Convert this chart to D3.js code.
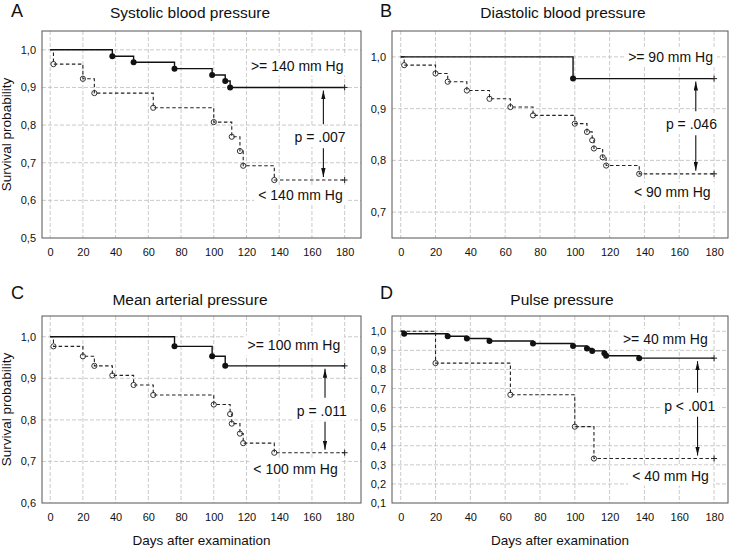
<!DOCTYPE html>
<html>
<head>
<meta charset="utf-8">
<script src="https://cdn.jsdelivr.net/npm/d3@7"></script>
<style>
  html, body { margin: 0; padding: 0; background: #fff; }
  svg { display: block; font-family: "Liberation Sans", Arial, sans-serif; }
</style>
</head>
<body>
<div id="chart"></div>
<script>
// Days on the x axis (same for all panels)
const xTicks = [0, 20, 40, 60, 80, 100, 120, 140, 160, 180];
const followUpEnd = 180;

// A: systolic blood pressure
const sbpTicks = [0.5, 0.6, 0.7, 0.8, 0.9, 1.0];
const sbpHighDays = [38, 51, 76, 99, 107, 110];
const sbpHighSurv = [0.983, 0.967, 0.950, 0.933, 0.917, 0.900];
const sbpLowDays = [2, 20, 27, 63, 100, 111, 116, 118, 137];
const sbpLowSurv = [0.962, 0.923, 0.885, 0.846, 0.808, 0.769, 0.731, 0.692, 0.654];

// B: diastolic blood pressure
const dbpTicks = [0.7, 0.8, 0.9, 1.0];
const dbpHighDays = [99];
const dbpHighSurv = [0.958];
const dbpLowDays = [2, 20, 27, 38, 51, 63, 76, 100, 107, 110, 111, 116, 118, 137];
const dbpLowSurv = [0.984, 0.968, 0.952, 0.935, 0.919, 0.903, 0.887, 0.871, 0.855, 0.839, 0.823, 0.806, 0.790, 0.774];

// C: mean arterial pressure
const mapTicks = [0.6, 0.7, 0.8, 0.9, 1.0];
const mapHighDays = [76, 99, 107];
const mapHighSurv = [0.977, 0.953, 0.930];
const mapLowDays = [2, 20, 27, 38, 51, 63, 100, 110, 111, 116, 118, 137];
const mapLowSurv = [0.977, 0.953, 0.930, 0.907, 0.884, 0.860, 0.837, 0.814, 0.791, 0.767, 0.744, 0.721];

// D: pulse pressure
const ppTicks = [0.1, 0.2, 0.3, 0.4, 0.5, 0.6, 0.7, 0.8, 0.9, 1.0];
const ppHighDays = [2, 27, 38, 51, 76, 99, 107, 110, 117, 118, 137];
const ppHighSurv = [0.987, 0.974, 0.962, 0.949, 0.936, 0.923, 0.910, 0.897, 0.885, 0.872, 0.859];
const ppLowDays = [20, 63, 100, 111];
const ppLowSurv = [0.833, 0.667, 0.500, 0.333];

const width = 734;
const height = 548;

// Panel setup
const panels = [
  {
    letter: 'A', title: 'Systolic blood pressure', titleX: 190, titleY: 18,
    letterX: 11, letterY: 17,
    frame: { left: 42, top: 31, right: 361, bottom: 238 },
    xDomain: [-5, 190], yDomain: [0.5, 1.05], yTicks: sbpTicks,
    high: { days: sbpHighDays, surv: sbpHighSurv },
    low: { days: sbpLowDays, surv: sbpLowSurv },
    hiText: '>= 140 mm Hg', hiPos: [151, 0.958],
    loText: '< 140 mm Hg', loPos: [153, 0.614],
    pText: 'p = .007', pPos: [165, 0.768], arrowX: 167,
    yLabel: true, xLabel: false
  },
  {
    letter: 'B', title: 'Diastolic blood pressure', titleX: 563, titleY: 18,
    letterX: 380, letterY: 17,
    frame: { left: 392, top: 31, right: 728, bottom: 238 },
    xDomain: [-5, 188], yDomain: [0.65, 1.05], yTicks: dbpTicks,
    high: { days: dbpHighDays, surv: dbpHighSurv },
    low: { days: dbpLowDays, surv: dbpLowSurv },
    hiText: '>= 90 mm Hg', hiPos: [155, 1.0],
    loText: '< 90 mm Hg', loPos: [156, 0.738],
    pText: 'p = .046', pPos: [167, 0.870], arrowX: 169.5,
    yLabel: false, xLabel: false
  },
  {
    letter: 'C', title: 'Mean arterial pressure', titleX: 190, titleY: 305,
    letterX: 11, letterY: 299,
    frame: { left: 42, top: 316, right: 361, bottom: 503 },
    xDomain: [-5, 190], yDomain: [0.6, 1.05], yTicks: mapTicks,
    high: { days: mapHighDays, surv: mapHighSurv },
    low: { days: mapLowDays, surv: mapLowSurv },
    hiText: '>= 100 mm Hg', hiPos: [149, 0.979],
    loText: '< 100 mm Hg', loPos: [150, 0.682],
    pText: 'p = .011', pPos: [166, 0.822], arrowX: 168,
    yLabel: true, xLabel: true
  },
  {
    letter: 'D', title: 'Pulse pressure', titleX: 562, titleY: 305,
    letterX: 380, letterY: 299,
    frame: { left: 392, top: 316, right: 728, bottom: 503 },
    xDomain: [-5, 188], yDomain: [0.1, 1.08], yTicks: ppTicks,
    high: { days: ppHighDays, surv: ppHighSurv },
    low: { days: ppLowDays, surv: ppLowSurv },
    hiText: '>= 40 mm Hg', hiPos: [152, 0.96],
    loText: '< 40 mm Hg', loPos: [155, 0.243],
    pText: 'p < .001', pPos: [166, 0.61], arrowX: 170.5,
    yLabel: false, xLabel: true
  }
];

const svg = d3.select('#chart')
  .append('svg')
  .attr('width', width)
  .attr('height', height)
  .attr('viewBox', `0 0 ${width} ${height}`);

// Arrow head for the p value arrows
svg.append('defs').append('marker')
  .attr('id', 'arrow')
  .attr('viewBox', '0 0 9 4.4')
  .attr('refX', 9)
  .attr('refY', 2.2)
  .attr('markerWidth', 9)
  .attr('markerHeight', 4.4)
  .attr('markerUnits', 'userSpaceOnUse')
  .attr('orient', 'auto')
  .append('path')
  .attr('d', 'M0,0 L9,2.2 L0,4.4 Z')
  .attr('fill', '#111');

const commaFormat = v => d3.format('.1f')(v).replace('.', ',');

// Kaplan-Meier steps from event days and survival values
function stepPoints(series) {
  const pts = [[0, 1.0]];
  series.days.forEach((d, i) => pts.push([d, series.surv[i]]));
  pts.push([followUpEnd, series.surv[series.surv.length - 1]]);
  return pts;
}

// Text with a white box behind it
function boxedText(g, text, x, y) {
  const t = g.append('text')
    .attr('x', x)
    .attr('y', y)
    .attr('dy', '0.35em')
    .attr('text-anchor', 'middle')
    .attr('font-size', 14)
    .attr('fill', '#111')
    .text(text);
  const bb = t.node().getBBox();
  g.insert('rect', () => t.node())
    .attr('x', bb.x - 4)
    .attr('y', bb.y - 2)
    .attr('width', bb.width + 8)
    .attr('height', bb.height + 4)
    .attr('fill', '#fff');
}

function renderPanel(p) {
  const f = p.frame;
  const x = d3.scaleLinear().domain(p.xDomain).range([f.left, f.right]);
  const y = d3.scaleLinear().domain(p.yDomain).range([f.bottom, f.top]);
  const g = svg.append('g');

  // Grid
  const grid = g.append('g')
    .attr('stroke', '#bdbdbd')
    .attr('stroke-width', 0.8)
    .attr('stroke-dasharray', '4,2');
  grid.selectAll('.vgrid')
    .data(xTicks)
    .enter()
    .append('line')
    .attr('x1', d => x(d)).attr('x2', d => x(d))
    .attr('y1', f.top).attr('y2', f.bottom);
  grid.selectAll('.hgrid')
    .data(p.yTicks.filter(v => y(v) > f.top + 1 && y(v) < f.bottom - 1))
    .enter()
    .append('line')
    .attr('x1', f.left).attr('x2', f.right)
    .attr('y1', d => y(d)).attr('y2', d => y(d));

  // Axes, labels only
  const xAxis = g.append('g')
    .attr('transform', `translate(0,${f.bottom})`)
    .call(d3.axisBottom(x).tickValues(xTicks).tickSize(0).tickPadding(10));
  const yAxis = g.append('g')
    .attr('transform', `translate(${f.left},0)`)
    .call(d3.axisLeft(y).tickValues(p.yTicks).tickFormat(commaFormat).tickSize(0).tickPadding(6));
  [xAxis, yAxis].forEach(a => {
    a.select('.domain').remove();
    a.selectAll('text')
      .attr('font-size', 11)
      .attr('font-family', '"Liberation Sans", Arial, sans-serif')
      .attr('fill', '#111');
  });

  // Frame
  g.append('rect')
    .attr('x', f.left)
    .attr('y', f.top)
    .attr('width', f.right - f.left)
    .attr('height', f.bottom - f.top)
    .attr('fill', 'none')
    .attr('stroke', '#555')
    .attr('stroke-width', 1);

  // Annotation labels
  boxedText(g, p.hiText, x(p.hiPos[0]), y(p.hiPos[1]));
  boxedText(g, p.loText, x(p.loPos[0]), y(p.loPos[1]));
  boxedText(g, p.pText, x(p.pPos[0]), y(p.pPos[1]));

  // p value arrows
  const hiEnd = p.high.surv[p.high.surv.length - 1];
  const loEnd = p.low.surv[p.low.surv.length - 1];
  const py = y(p.pPos[1]);
  g.append('line')
    .attr('x1', x(p.arrowX)).attr('x2', x(p.arrowX))
    .attr('y1', py - 13).attr('y2', y(hiEnd) + 3)
    .attr('stroke', '#111').attr('stroke-width', 1.1)
    .attr('marker-end', 'url(#arrow)');
  g.append('line')
    .attr('x1', x(p.arrowX)).attr('x2', x(p.arrowX))
    .attr('y1', py + 11).attr('y2', y(loEnd) - 3)
    .attr('stroke', '#111').attr('stroke-width', 1.1)
    .attr('marker-end', 'url(#arrow)');

  // Survival curves
  const line = d3.line()
    .x(d => x(d[0]))
    .y(d => y(d[1]))
    .curve(d3.curveStepAfter);

  g.append('path')
    .datum(stepPoints(p.low))
    .attr('d', line)
    .attr('fill', 'none')
    .attr('stroke', '#222')
    .attr('stroke-width', 1.1)
    .attr('stroke-dasharray', '3.5,2.5');

  g.append('path')
    .datum(stepPoints(p.high))
    .attr('d', line)
    .attr('fill', 'none')
    .attr('stroke', '#111')
    .attr('stroke-width', 1.4);

  // Event markers
  g.selectAll('.lowDot')
    .data(p.low.days.map((d, i) => [d, p.low.surv[i]]))
    .enter()
    .append('circle')
    .attr('cx', d => x(d[0]))
    .attr('cy', d => y(d[1]))
    .attr('r', 2.6)
    .attr('fill', 'none')
    .attr('stroke', '#333')
    .attr('stroke-width', 1);

  g.selectAll('.highDot')
    .data(p.high.days.map((d, i) => [d, p.high.surv[i]]))
    .enter()
    .append('circle')
    .attr('cx', d => x(d[0]))
    .attr('cy', d => y(d[1]))
    .attr('r', 3)
    .attr('fill', '#111');

  // Censored marks at end of follow up
  [hiEnd, loEnd].forEach(v => {
    g.append('path')
      .attr('d', `M${x(followUpEnd) - 3},${y(v)} h6 M${x(followUpEnd)},${y(v) - 3} v6`)
      .attr('stroke', '#222')
      .attr('stroke-width', 1);
  });

  // Titles
  g.append('text')
    .attr('x', p.titleX)
    .attr('y', p.titleY)
    .attr('text-anchor', 'middle')
    .attr('font-size', 15.5)
    .attr('fill', '#111')
    .text(p.title);
  g.append('text')
    .attr('x', p.letterX)
    .attr('y', p.letterY)
    .attr('font-size', 18)
    .attr('fill', '#111')
    .text(p.letter);

  if (p.yLabel) {
    g.append('text')
      .attr('transform', `translate(11,${(f.top + f.bottom) / 2}) rotate(-90)`)
      .attr('text-anchor', 'middle')
      .attr('font-size', 13.5)
      .attr('fill', '#111')
      .text('Survival probability');
  }
  if (p.xLabel) {
    g.append('text')
      .attr('x', (f.left + f.right) / 2)
      .attr('y', 544.5)
      .attr('text-anchor', 'middle')
      .attr('font-size', 13.5)
      .attr('fill', '#111')
      .text('Days after examination');
  }
}

panels.forEach(renderPanel);
</script>
</body>
</html>
